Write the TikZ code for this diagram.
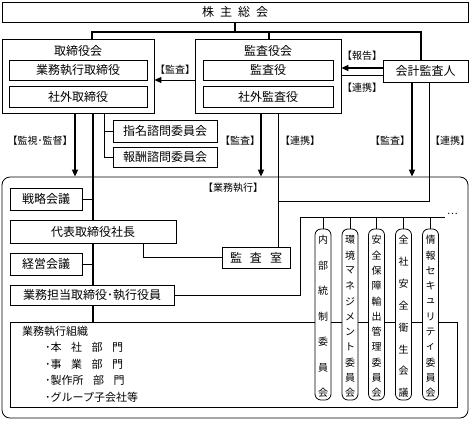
\documentclass[tikz,border=0pt]{standalone}
\usepackage{fontspec}
\setmainfont{Noto Sans CJK JP}
\usetikzlibrary{positioning, arrows.meta, backgrounds}

% vertical text in a committee column: name, x, count, chars
\newcommand{\colchars}[4]{%
  \foreach \ch [count=\i] in {#4}
    \node[vchar] (#1-\i) at (#2, {240+(\i-1)*153/(#3-1)}) {\ch};
}

\begin{document}
\begin{tikzpicture}[x=1pt, y=-1pt,
    box/.style={draw, line width=0.8pt, fill=white, inner sep=0pt, font=\fontsize{12}{14}\selectfont},
    frame/.style={draw, line width=0.8pt, inner sep=0pt},
    title/.style={inner sep=0pt, font=\fontsize{12}{14}\selectfont},
    lbl/.style={inner sep=0pt, font=\fontsize{10}{12}\selectfont},
    col/.style={draw, line width=0.8pt, fill=white, rounded corners=6pt, minimum width=16pt, minimum height=171pt, inner sep=0pt},
    vchar/.style={inner sep=0pt, font=\fontsize{10}{11}\selectfont},
    bold/.style={line width=1.6pt},
    link/.style={line width=0.9pt},
    arr/.style={-{Triangle[length=7pt,width=6pt]}}]
    \useasboundingbox (0,0) rectangle (470,421);

    % Define boxes
    \node[box, minimum width=466pt, minimum height=20pt] (soukai) at (235,12) {株\hspace{6pt}主\hspace{6pt}総\hspace{6pt}会};

    \node[frame, minimum width=152pt, minimum height=74pt] (torishimari) at (78,76) {};
    \node[title] (torititle) at (78,51) {取締役会};
    \node[box, minimum width=138pt, minimum height=20pt] (gyomu) at (78,70) {業務執行取締役};
    \node[box, minimum width=138pt, minimum height=21pt] (shagai) at (78,96.5) {社外取締役};

    \node[frame, minimum width=146pt, minimum height=74pt] (kansakai) at (268,76) {};
    \node[title] (kansatitle) at (268,51) {監査役会};
    \node[box, minimum width=130pt, minimum height=20pt] (kansa) at (268,70) {監査役};
    \node[box, minimum width=130pt, minimum height=21pt] (shagaikansa) at (268,96.5) {社外監査役};

    \node[box, minimum width=85pt, minimum height=22pt] (kaikei) at (425.5,71) {会計監査人};

    \node[box, minimum width=104pt, minimum height=22pt] (shimei) at (165,131) {指名諮問委員会};
    \node[box, minimum width=104pt, minimum height=20pt] (hoshu) at (165,157) {報酬諮問委員会};

    \node[frame, rounded corners=8pt, minimum width=466pt, minimum height=241pt] (shikko) at (235,297.5) {};
    \node[lbl] (shikkolbl) at (233,188) {【業務執行】};
    \node[box, minimum width=72pt, minimum height=22pt] (senryaku) at (46,199) {戦略会議};
    \node[box, minimum width=166pt, minimum height=23pt] (daihyo) at (93,231.5) {代表取締役社長};
    \node[box, minimum width=68pt, minimum height=21pt] (kansashitsu) at (256,257.5) {監\hspace{8pt}査\hspace{8pt}室};
    \node[box, minimum width=72pt, minimum height=22pt] (keiei) at (46,264) {経営会議};
    \node[box, minimum width=164pt, minimum height=20pt] (tanto) at (92,295) {業務担当取締役･執行役員};

    \node[frame, minimum width=447pt, minimum height=85pt] (soshiki) at (233.5,364.5) {};
    \node[anchor=north west, align=left, inner sep=0pt, font=\fontsize{11}{16.5}\selectfont] (soshikitxt) at (22,326)
        {業務執行組織\\
         \hspace*{23pt}･本\hspace{9.5pt}社\hspace{9.5pt}部\hspace{9.5pt}門\\
         \hspace*{23pt}･事\hspace{9.5pt}業\hspace{9.5pt}部\hspace{9.5pt}門\\
         \hspace*{23pt}･製作所\hspace{9.5pt}部\hspace{9.5pt}門\\
         \hspace*{23pt}･グループ子会社等};

    % Define committee columns
    \node[col] (c1) at (323,314.5) {};
    \node[col] (c2) at (350,314.5) {};
    \node[col] (c3) at (376.5,314.5) {};
    \node[col] (c4) at (403.5,314.5) {};
    \node[col] (c5) at (430.5,314.5) {};
    \colchars{c1}{323}{7}{内,部,統,制,委,員,会}
    \colchars{c2}{350}{11}{環,境,マ,ネ,ジ,メ,ン,ト,委,員,会}
    \colchars{c3}{376.5}{11}{安,全,保,障,輸,出,管,理,委,員,会}
    \colchars{c4}{403.5}{8}{全,社,安,全,衛,生,会,議}
    \colchars{c5}{430.5}{11}{情,報,セ,キ,ュ,リ,テ,ィ,委,員,会}

    % Define labels
    \node[lbl] (hokoku) at (362,56) {【報告】};
    \node[lbl] (renkeiA) at (362,88) {【連携】};
    \node[lbl] (kansaA) at (175,70) {【監査】};
    \node[lbl] (kanshi) at (40,141) {【監視･監督】};
    \node[lbl] (kansaB) at (240,141) {【監査】};
    \node[lbl] (renkeiB) at (300,141) {【連携】};
    \node[lbl] (kansaC) at (390,141) {【監査】};
    \node[lbl] (renkeiC) at (450,141) {【連携】};

    % Define connections
    \coordinate (bus) at (235,32);
    \coordinate (renkeijct) at (278,201);
    \coordinate (cbus) at (300,217);
    \coordinate (cbusend) at (445,217);
    \node[lbl, anchor=west] (more) at (447,214) {…};

    \begin{scope}[on background layer]
    \draw[bold] (soukai.south) -- (bus);
    \draw[bold] ([xshift=14pt]torishimari.north) |- (bus) -| ([xshift=-4.5pt]kaikei.north);
    \draw[bold] ([xshift=1pt]kansakai.north) -- ([xshift=1pt]kansakai.north |- bus);

    \draw[bold, arr] ([yshift=3pt]kaikei.west) -- ([yshift=3pt]kaikei.west -| kansakai.east);
    \draw[link] ([yshift=-4pt]kaikei.west) -- ([yshift=-4pt]kaikei.west -| kansakai.east);
    \draw[link, arr] ([yshift=-4pt]kansakai.west) -- ([yshift=-4pt]kansakai.west -| torishimari.east);

    \draw[bold, arr] ([xshift=-3pt]torishimari.south) -- ([xshift=-3pt]torishimari.south |- shikko.north);
    \draw[bold] ([xshift=15pt]torishimari.south) -- ([xshift=15pt]torishimari.south |- soshiki.north);
    \draw[link] ([xshift=26pt]torishimari.south) |- (hoshu.west);
    \draw[link] (shimei.west) -- ++(-9,0);
    \draw[link] (senryaku.east) -- ++(11,0);
    \draw[link] (keiei.east) -- ++(11,0);

    \draw[bold, arr] ([xshift=-7pt]kansakai.south) -- ([xshift=-7pt]kansakai.south |- shikko.north);
    \draw[link] ([xshift=10pt]kansakai.south) -- (renkeijct |- kansashitsu.north);
    \draw[link] ([xshift=3.5pt]kaikei.south) |- (renkeijct);
    \draw[bold, arr] ([xshift=-13.5pt]kaikei.south) -- ([xshift=-13.5pt]kaikei.south |- shikko.north);

    \draw[link] ([xshift=50pt]daihyo.south) |- (kansashitsu.west);
    \draw[link] (tanto.east) -| (cbus) -- (cbusend);
    \foreach \c in {c1,c2,c3,c4,c5}
        \draw[link] (\c.north) -- (\c.north |- cbus);
    \end{scope}
\end{tikzpicture}
\end{document}
